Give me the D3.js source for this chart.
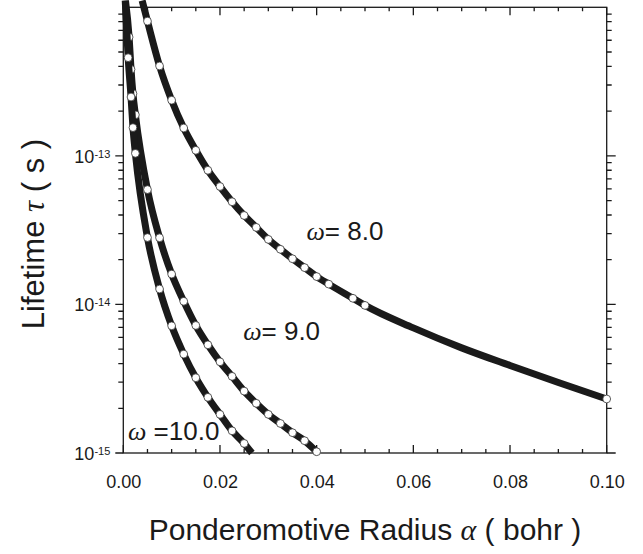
<!DOCTYPE html>
<html>
<head>
<meta charset="utf-8">
<script src="https://cdn.jsdelivr.net/npm/d3@7"></script>
<style>
  body { margin: 0; background: #fff; }
  svg { display: block; }
</style>
</head>
<body>
<div id="chart"><svg width="643" height="554"></svg></div>
<script>
// values: alpha (bohr) and lifetime tau (s)
const omegaLabels = ["= 8.0", "= 9.0", " =10.0"];

const alpha8 = [0.005, 0.0075, 0.01, 0.0125, 0.015, 0.0175, 0.02, 0.0225, 0.025, 0.0275,
                0.03, 0.0325, 0.035, 0.0375, 0.04, 0.0425, 0.0475, 0.05, 0.1];
const tau8 = [8.07e-13, 4.03e-13, 2.37e-13, 1.54e-13, 1.09e-13, 8.0e-14, 6.22e-14, 4.91e-14, 3.97e-14, 3.30e-14,
              2.74e-14, 2.35e-14, 2.03e-14, 1.77e-14, 1.54e-14, 1.37e-14, 1.10e-14, 9.85e-15, 2.31e-15];
// extra curve points (no marker)
const curveAlpha8 = [0.0039, 0.06, 0.07, 0.08, 0.09];
const curveTau8 = [1.11e-12, 6.95e-15, 5.1e-15, 3.88e-15, 2.98e-15];

const alpha9 = [0.0012, 0.0016, 0.002, 0.0025, 0.005, 0.0075, 0.01, 0.0125, 0.015, 0.0175, 0.02,
                0.0225, 0.025, 0.0275, 0.03, 0.0325, 0.035, 0.0375, 0.04];
const tau9 = [6.30e-13, 3.82e-13, 2.62e-13, 1.89e-13, 5.93e-14, 2.81e-14, 1.60e-14, 1.05e-14, 7.22e-15, 5.35e-15, 4.11e-15,
              3.28e-15, 2.61e-15, 2.16e-15, 1.82e-15, 1.58e-15, 1.37e-15, 1.21e-15, 1.02e-15];
const curveAlpha9 = [0.00045, 0.0403];
const curveTau9 = [1.11e-12, 1.0e-15];

const alpha10 = [0.001, 0.0016, 0.002, 0.0025, 0.005, 0.0075, 0.01, 0.0125, 0.015, 0.0175, 0.02, 0.0225, 0.025];
const tau10 = [4.58e-13, 2.49e-13, 1.55e-13, 1.04e-13, 2.82e-14, 1.27e-14, 7.18e-15, 4.63e-15, 3.21e-15, 2.37e-15,
               1.82e-15, 1.41e-15, 1.16e-15];
const curveAlpha10 = [0.0004, 0.0266];
const curveTau10 = [1.11e-12, 1.0e-15];

const xTicks = [0, 0.02, 0.04, 0.06, 0.08, 0.10];
const yTicks = [1e-15, 1e-14, 1e-13];

const svg = d3.select("#chart").select("svg");
const m = { left: 123.3, right: 606.7, top: 7.3, bottom: 453 };
const ink = "#1a1a1a";
const sans = "'Liberation Sans', Arial, sans-serif";
const serif = "'Liberation Serif', 'Times New Roman', serif";

const x = d3.scaleLinear().domain([0, 0.1]).range([m.left, m.right]);
const y = d3.scaleLog().domain([1e-15, 1e-12]).range([m.bottom, m.top]);

const xMinor = d3.range(0, 0.1001, 0.005).filter(v => Math.abs(v / 0.02 - Math.round(v / 0.02)) > 1e-6);
const yMinor = [];
[-15, -14, -13].forEach(d => { for (let k = 2; k <= 9; k++) yMinor.push(k * Math.pow(10, d)); });

// frame
svg.append("rect")
    .attr("x", m.left).attr("y", m.top)
    .attr("width", m.right - m.left).attr("height", m.bottom - m.top)
    .attr("fill", "none").attr("stroke", ink).attr("stroke-width", 1.3);

// tick marks from the scales, as one path per set; x ticks point inward, y ticks outward
function tickPath(values, side, len) {
    const d = values.map(v => {
        if (side === "bottom") return `M${x(v)},${m.bottom}V${m.bottom - len}`;
        if (side === "top") return `M${x(v)},${m.top}V${m.top + len}`;
        if (side === "left") return `M${m.left},${y(v)}H${m.left - len}`;
        return `M${m.right},${y(v)}H${m.right + len}`;
    }).join("");
    svg.append("path")
        .attr("d", d)
        .attr("fill", "none")
        .attr("stroke", ink)
        .attr("stroke-width", 1.3);
}
tickPath(xMinor, "bottom", 4);
tickPath(xTicks, "bottom", 8);
tickPath(xMinor, "top", 4);
tickPath(xTicks, "top", 8);
tickPath(yMinor, "left", 5);
tickPath(yTicks, "left", 8);
tickPath(yMinor, "right", 5);
tickPath(yTicks, "right", 9);

// tick labels through d3 axes
svg.append("g").attr("transform", `translate(0,${m.bottom})`)
    .call(d3.axisBottom(x).tickValues(xTicks).tickSize(0).tickPadding(22).tickFormat(d3.format(".2f")))
    .call(g => g.select(".domain").remove())
    .call(g => g.selectAll(".tick text").attr("fill", ink)
        .style("font-family", sans).style("font-size", "18px"));

const yAxisG = svg.append("g").attr("transform", `translate(${m.left},0)`)
    .call(d3.axisLeft(y).tickValues(yTicks).tickSize(0).tickPadding(13).tickFormat(""))
    .call(g => g.select(".domain").remove());
yAxisG.selectAll(".tick text")
    .attr("fill", ink)
    .attr("dy", "0.35em")
    .style("font-family", sans)
    .style("font-size", "18px")
    .each(function(d) {
        const t = d3.select(this);
        t.append("tspan").text("10");
        t.append("tspan").attr("dy", "-0.45em").style("font-size", "11px").text(Math.round(Math.log10(d)));
    });

// curves
const series = [
    { markA: alpha8, markT: tau8, curveA: curveAlpha8, curveT: curveTau8 },
    { markA: alpha9, markT: tau9, curveA: curveAlpha9, curveT: curveTau9 },
    { markA: alpha10, markT: tau10, curveA: curveAlpha10, curveT: curveTau10 }
];

const line = d3.line()
    .x(d => x(d[0]))
    .y(d => y(d[1]))
    .curve(d3.curveMonotoneX);

series.forEach(s => {
    const marks = s.markA.map((a, i) => [a, s.markT[i]]);
    const pts = marks.concat(s.curveA.map((a, i) => [a, s.curveT[i]]))
        .sort((p, q) => p[0] - q[0]);

    svg.append("path")
        .attr("d", line(pts))
        .attr("fill", "none")
        .attr("stroke", ink)
        .attr("stroke-width", 7)
        .attr("stroke-linejoin", "round");

    svg.append("g").selectAll("circle")
        .data(marks)
        .join("circle")
        .attr("cx", d => x(d[0]))
        .attr("cy", d => y(d[1]))
        .attr("r", 3.9)
        .attr("fill", "#fff")
        .attr("stroke", "#333")
        .attr("stroke-width", 0.8);
});

// omega labels (anchored in data coordinates)
const labelAt = [[0.0379, 2.72e-14], [0.0248, 5.76e-15], [0.00097, 1.22e-15]];
labelAt.forEach((p, i) => {
    const t = svg.append("text")
        .attr("x", x(p[0]))
        .attr("y", y(p[1]))
        .attr("fill", ink)
        .style("font-family", sans)
        .style("font-size", "26px");
    t.append("tspan").style("font-family", serif).style("font-style", "italic").text("ω");
    t.append("tspan").text(omegaLabels[i]);
});

// axis titles
const xTitle = svg.append("text")
    .attr("x", 365)
    .attr("y", 540)
    .attr("text-anchor", "middle")
    .attr("fill", ink)
    .style("font-family", sans)
    .style("font-size", "30px");
xTitle.append("tspan").text("Ponderomotive Radius ");
xTitle.append("tspan").style("font-family", serif).style("font-style", "italic").text("α");
xTitle.append("tspan").text(" ( bohr )");

const yTitle = svg.append("text")
    .attr("transform", `translate(44,234) rotate(-90)`)
    .attr("text-anchor", "middle")
    .attr("fill", ink)
    .style("font-family", sans)
    .style("font-size", "31px");
yTitle.append("tspan").text("Lifetime ");
yTitle.append("tspan").style("font-family", serif).style("font-style", "italic").text("τ");
yTitle.append("tspan").text(" ( s )");
</script>
</body>
</html>
